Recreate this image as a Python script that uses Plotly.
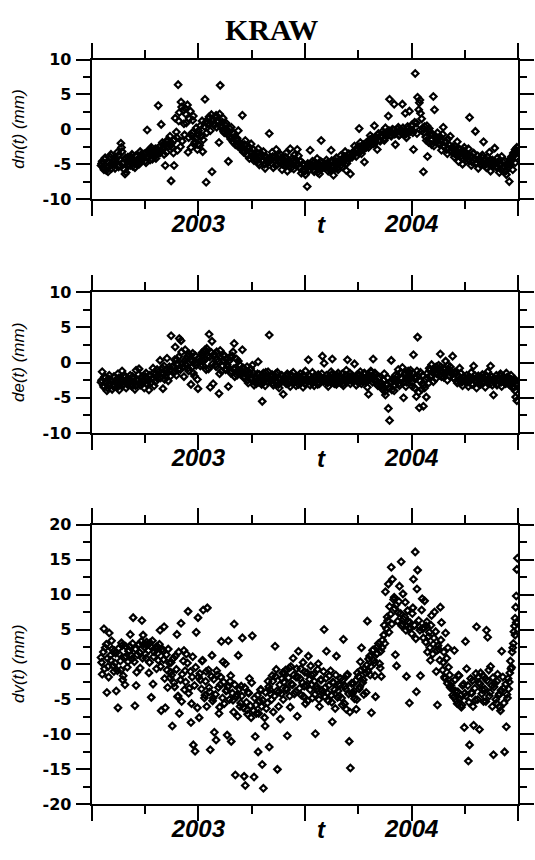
import plotly.graph_objects as go

# ---------------- data ----------------
# observation epochs (days since 2002-07-01), first set
days_a = [
    16,18,21,23,26,28,30,33,35,38,
    40,42,45,47,50,52,54,57,59,62,
    64,66,69,71,74,76,78,81,83,86,
    88,90,93,95,98,100,102,105,107,110,
    112,114,117,119,122,124,126,129,131,134,
    136,138,141,143,146,148,150,153,155,158,
    160,162,165,167,170,172,174,177,179,182,
    184,186,189,191,194,196,198,201,203,206,
    208,210,213,215,218,220,222,225,227,230,
    232,234,237,239,242,244,246,249,251,254,
    256,258,261,263,266,268,270,273,275,278,
    280,282,285,287,290,292,294,297,299,302,
    304,306,309,311,314,316,318,321,323,326,
    328,330,333,335,338,340,342,345,347,350,
    352,354,357,359,362,364,366,369,371,374,
    376,378,381,383,386,388,390,393,395,398,
    400,402,405,407,410,412,414,417,419,422,
    424,426,429,431,434,436,438,441,443,446,
    448,450,453,455,458,460,462,465,467,470,
    472,474,477,479,482,484,486,489,491,494,
    496,498,501,503,506,508,510,513,515,518,
    520,522,525,527,530,532,534,537,539,542,
    544,546,549,551,554,556,558,561,563,566,
    568,570,573,575,578,580,582,585,587,590,
    592,594,597,599,602,604,606,609,611,614,
    616,618,621,623,626,628,630,633,635,638,
    640,642,645,647,650,652,654,657,659,662,
    664,666,669,671,674,676,678,681,683,686,
    688,690,693,695,698,700,702,705,707,710,
    712,715,718,721,723,725,726,727,728,729,
]
# second set of epochs (days since 2002-07-01)
days_b = [
    17,20,22,25,27,29,32,34,37,39,
    41,44,46,49,51,53,56,58,61,63,
    65,68,70,73,75,77,80,82,85,87,
    89,92,94,97,99,101,104,106,109,111,
    113,116,118,121,123,125,128,130,133,135,
    137,140,142,145,147,149,152,154,157,159,
    161,164,166,169,171,173,176,178,181,183,
    185,188,190,193,195,197,200,202,205,207,
    209,212,214,217,219,221,224,226,229,231,
    233,236,238,241,243,245,248,250,253,255,
    257,260,262,265,267,269,272,274,277,279,
    281,284,286,289,291,293,296,298,301,303,
    305,308,310,313,315,317,320,322,325,327,
    329,332,334,337,339,341,344,346,349,351,
    353,356,358,361,363,365,368,370,373,375,
    377,380,382,385,387,389,392,394,397,399,
    401,404,406,409,411,413,416,418,421,423,
    425,428,430,433,435,437,440,442,445,447,
    449,452,454,457,459,461,464,466,469,471,
    473,476,478,481,483,485,488,490,493,495,
    497,500,502,505,507,509,512,514,517,519,
    521,524,526,529,531,533,536,538,541,543,
    545,548,550,553,555,557,560,562,565,567,
    569,572,574,577,579,581,584,586,589,591,
    593,596,598,601,603,605,608,610,613,615,
    617,620,622,625,627,629,632,634,637,639,
    641,644,646,649,651,653,656,658,661,663,
    665,668,670,673,675,677,680,682,685,687,
    689,692,694,697,699,701,704,706,709,711,
    713,714,716,717,719,720,722,724,725,727,
]

dn_a = [
    -5.2,-4.6,-5.8,-4.1,-5.5,-6.1,-4.8,-3.6,-5.0,-4.4,
    -5.6,-4.2,-3.8,-5.1,-2.0,-3.2,-4.7,-6.4,-6.2,-4.0,
    -4.3,-5.2,-3.6,-4.8,-5.5,-3.9,-4.6,-5.0,-3.2,-4.4,
    -4.1,-3.5,-4.8,-0.1,-3.0,-4.4,-2.6,-3.8,-3.1,-4.2,
    -2.8,3.4,-3.4,0.7,-2.2,-3.6,-5.2,-1.8,-2.5,-1.0,
    -7.4,-2.6,-5.2,1.6,-1.2,6.4,2.4,3.9,-1.7,0.8,
    3.0,0.9,-3.3,1.5,-2.6,-0.5,1.9,-1.8,0.2,-2.2,
    -0.7,0.5,1.2,-1.5,4.3,-7.6,0.8,1.8,-0.2,-6.1,
    1.4,0.6,2.0,1.0,-1.9,6.3,0.2,1.6,-0.5,0.9,
    -0.4,-4.6,-1.0,0.3,-1.8,-0.6,-2.2,-1.3,-0.2,-2.7,
    -2.4,2.0,-3.1,-1.6,-3.6,-2.8,-4.2,-2.1,-3.4,-4.5,
    -3.7,-4.5,-2.8,-5.1,-3.9,-4.6,-3.2,-5.6,-4.0,-4.8,
    -0.6,-4.4,-3.3,-5.5,-4.0,-2.9,-5.0,-4.6,-3.6,-5.8,
    -4.3,-5.2,-3.4,-6.0,-4.8,-2.8,-5.5,-4.5,-3.7,-5.1,
    -2.9,-3.8,-5.6,-6.3,-4.9,-5.8,-6.5,-8.2,-5.2,-3.0,
    -5.4,-4.6,-6.1,-5.0,-4.2,-5.7,-6.4,-1.6,-4.8,-5.5,
    -5.2,-4.4,-6.0,-5.6,-3.0,-4.7,-6.6,-5.0,-4.1,-5.8,
    -4.9,-3.8,-5.4,-4.2,-3.2,-5.9,-4.5,-3.6,-6.4,-4.0,
    -3.3,-2.4,-3.9,-2.8,0.1,-1.9,-3.5,-2.2,-4.7,-2.6,
    -1.8,-2.6,-0.9,-1.4,-2.1,0.5,-1.1,-2.9,-0.6,-1.7,
    -0.9,-0.3,-1.6,0.2,-0.5,1.9,4.3,-1.0,0.0,3.6,
    -2.2,-0.4,0.3,-0.8,-0.1,3.6,-0.6,2.3,-1.2,0.1,
    2.6,-0.3,0.5,-2.9,8.0,0.9,4.6,3.8,2.3,-0.2,
    -6.1,0.4,-1.6,-3.9,0.1,-0.8,-2.2,4.7,2.8,-1.3,
    -0.5,-2.0,-1.1,-3.0,0.3,-2.4,-1.7,-3.5,-2.8,-1.0,
    -3.2,-2.5,-4.0,-3.6,-1.8,-4.6,-2.9,-3.8,-5.0,-2.6,
    -3.8,-4.5,-2.8,1.7,-5.2,-4.0,-3.4,-0.3,-4.8,-5.6,
    -4.2,-5.1,-3.7,-1.8,-4.9,-5.5,-4.0,-3.3,-6.0,-4.4,
    -4.6,-2.7,-5.3,-4.1,-6.2,-5.0,-3.9,-5.6,-4.5,-6.5,
    -5.2,-7.5,-4.4,-5.8,-3.6,-4.8,-3.1,-4.0,-2.6,-3.2,
]
dn_b = [
    -4.9,-5.5,-4.3,-5.9,-4.7,-5.3,-4.0,-5.6,-4.5,-5.0,
    -4.8,-3.3,-5.4,-4.4,-2.6,-4.9,-5.8,-4.1,-4.6,-5.2,
    -4.7,-4.0,-5.3,-4.5,-3.8,-5.0,-4.2,-4.9,-3.6,-4.1,
    -3.9,-4.5,-3.3,-4.0,-3.6,-2.9,-4.3,-3.4,-2.8,-3.7,
    -3.2,-2.5,-3.0,-1.9,-2.7,-2.2,-3.3,-1.5,-2.0,-2.4,
    -2.0,-3.4,-1.5,-0.4,-3.0,1.2,-2.5,3.2,2.7,-0.8,
    2.2,3.5,-1.2,2.6,-0.9,1.3,-2.0,-1.4,-2.9,-0.2,
    -2.3,-1.0,-3.2,0.4,1.0,-0.5,1.5,0.7,2.1,1.2,
    0.8,1.7,0.3,1.2,2.2,0.5,1.0,-0.3,0.6,-0.1,
    -0.8,0.1,-1.4,-0.5,-1.9,-1.1,-1.6,-2.4,-1.9,-2.2,
    -2.6,-3.3,-2.2,-3.0,-3.8,-2.5,-3.3,-3.9,-2.9,-3.6,
    -4.2,-3.4,-4.8,-4.0,-3.6,-4.4,-5.0,-3.9,-4.3,-4.6,
    -4.1,-4.9,-3.9,-4.5,-5.2,-4.3,-3.8,-4.8,-4.2,-5.0,
    -4.6,-4.0,-5.0,-4.4,-5.3,-4.9,-4.2,-5.7,-4.6,-5.2,
    -5.0,-5.4,-4.6,-5.9,-5.2,-6.0,-5.5,-4.9,-5.8,-5.3,
    -5.1,-5.8,-4.7,-5.3,-6.2,-5.0,-4.6,-5.6,-5.2,-4.9,
    -5.4,-4.8,-5.0,-5.9,-4.5,-5.3,-5.7,-4.6,-5.5,-4.9,
    -4.4,-5.1,-4.7,-3.9,-4.3,-4.9,-3.5,-4.1,-3.7,-3.3,
    -3.6,-3.0,-2.7,-3.4,-2.5,-3.1,-2.3,-2.9,-2.0,-2.4,
    -2.2,-1.5,-1.9,-1.2,-1.7,-2.0,-1.3,-0.8,-1.5,-1.0,
    -1.1,-0.6,-1.3,-0.4,-0.8,-0.2,-0.9,-0.5,-0.1,-0.7,
    -0.5,0.0,-0.9,-0.3,-0.6,0.2,-0.2,-0.7,0.4,-0.4,
    -0.1,0.6,-0.5,1.0,0.3,-0.6,2.8,4.2,1.5,0.2,
    -0.5,-1.1,0.5,-1.9,-0.3,-1.5,-0.8,-2.4,-1.0,-1.8,
    -1.3,-2.2,-1.6,-0.7,-2.5,-1.9,-2.9,-1.4,-2.3,-3.1,
    -2.7,-3.4,-2.4,-3.0,-3.7,-2.8,-3.3,-4.2,-3.1,-3.5,
    -4.1,-3.6,-4.4,-3.9,-4.7,-3.5,-4.2,-4.9,-3.8,-4.5,
    -4.6,-4.0,-4.8,-5.2,-4.3,-4.7,-5.0,-4.4,-4.9,-5.3,
    -5.1,-4.8,-5.5,-4.6,-5.2,-5.8,-4.7,-5.3,-6.0,-5.0,
    -5.5,-4.9,-4.3,-5.0,-3.9,-4.4,-3.4,-3.7,-2.9,-3.0,
]

de_a = [
    -2.8,-1.3,-3.5,-2.2,-4.0,-3.1,-1.8,-2.6,-3.8,-2.0,
    -3.3,-2.4,-1.6,-3.9,-2.7,-1.2,-3.0,-2.1,-3.6,-2.5,
    -2.9,-1.8,-3.4,-2.3,-3.8,-1.1,-2.6,-0.9,-3.2,-2.0,
    -2.7,-3.6,-1.5,-2.2,-3.9,-1.9,-2.8,-0.8,-3.3,-1.6,
    -1.0,-2.3,0.3,-1.5,-3.7,-0.5,-1.9,0.6,-2.6,-1.1,
    3.8,-0.6,-1.4,2.2,0.4,-1.0,3.4,3.1,-0.2,-2.0,
    1.8,0.5,-0.8,1.2,-3.1,0.2,-1.5,1.0,-0.4,-3.7,
    0.6,-0.5,1.4,0.2,1.8,-1.0,0.9,4.0,-3.5,3.0,
    -3.0,1.2,-0.6,0.5,-4.4,1.7,-1.2,0.3,0.9,-0.9,
    -0.3,-3.4,0.8,-1.2,1.5,2.7,-0.8,-1.8,0.2,-1.4,
    -1.1,1.8,-2.2,-1.6,-0.6,-2.9,-1.4,-2.4,-0.4,-3.2,
    -2.0,-3.0,0.1,-1.7,-2.6,-5.5,-1.5,-3.3,-2.2,-1.3,
    3.9,-2.6,-1.7,-3.2,-2.0,-2.9,-1.4,-3.6,-2.3,-1.9,
    -4.5,-2.2,-3.0,-1.6,-2.7,-3.4,-2.0,-1.4,-2.8,-3.3,
    -2.3,-3.1,-1.6,-2.8,-3.5,-2.0,-1.2,-2.7,0.4,-3.2,
    -2.5,-1.4,-3.3,-2.1,-2.9,-1.7,-3.0,-2.2,0.9,-0.1,
    -2.6,-1.8,-3.4,-2.3,-1.3,0.5,-2.9,-2.0,-3.1,-1.5,
    -2.2,-2.9,-1.6,-3.3,-2.5,-1.1,0.4,-2.0,-3.0,-1.8,
    -2.4,-0.2,-3.2,-1.7,-2.7,-1.3,-3.0,-2.1,-1.5,-2.8,
    -3.5,-4.5,-2.0,-1.4,0.5,-2.6,-1.8,-3.1,-2.3,-3.4,
    -2.9,-3.8,-1.6,-4.6,-3.2,-6.5,-8.2,0.3,-2.4,-4.0,
    -1.8,-2.7,-1.0,-3.3,-2.2,-0.7,-5.0,-1.5,-2.8,-1.2,
    -2.5,-1.1,-3.4,1.1,-2.0,-4.8,3.6,-6.4,-1.4,-3.0,
    -6.2,-3.6,-4.9,-2.2,-0.8,-1.9,-0.3,-2.7,-1.2,-0.6,
    -1.5,-0.4,1.2,-2.0,-0.9,-1.7,0.2,-2.5,-1.1,-0.6,
    -1.4,0.9,-2.3,-1.6,-2.9,-1.9,-0.8,-2.6,-3.3,-2.1,
    -2.7,-1.8,-3.4,-2.2,-1.4,-3.0,-0.5,-2.5,-3.6,-1.9,
    -2.4,-3.1,-1.7,-2.8,-3.5,-2.0,-1.3,-2.6,-0.5,-3.2,
    -4.6,-2.3,-1.8,-3.0,-2.5,-1.6,-3.4,-2.1,-2.9,-1.5,
    -2.2,-3.1,-1.8,-2.7,-3.5,-2.4,-4.9,-3.0,-5.4,-3.3,
]
de_b = [
    -2.5,-3.3,-2.0,-2.9,-3.6,-2.3,-3.0,-2.7,-3.4,-2.1,
    -2.8,-3.5,-2.2,-3.0,-2.4,-3.2,-1.8,-2.6,-3.1,-2.3,
    -2.6,-3.1,-2.0,-2.8,-3.3,-2.4,-1.7,-2.9,-2.2,-3.0,
    -2.4,-2.0,-3.0,-2.6,-1.8,-2.9,-2.2,-1.5,-2.7,-2.1,
    -1.8,-1.2,-2.2,-0.8,-1.6,-2.4,-1.0,-1.4,-0.6,-1.9,
    -1.2,-0.5,0.4,-1.8,-0.2,0.8,-1.0,1.5,-0.6,0.2,
    -0.3,0.9,-1.2,0.4,-0.7,1.3,-1.9,0.0,-2.4,0.6,
    0.2,1.0,-0.4,1.6,0.5,2.0,-0.9,0.8,1.4,-0.2,
    0.9,-0.3,1.5,0.2,-1.6,0.7,-0.5,1.1,-1.0,0.4,
    -0.6,0.3,-1.5,0.9,-0.9,-2.0,0.5,-1.1,-0.3,-1.7,
    -1.4,-0.8,-2.0,-1.2,-2.5,-1.7,-0.9,-2.2,-1.5,-2.7,
    -2.3,-1.6,-2.8,-2.0,-3.1,-1.9,-2.5,-1.4,-2.7,-2.1,
    -2.5,-2.0,-2.9,-2.2,-1.6,-2.7,-3.1,-2.4,-1.8,-2.6,
    -2.2,-2.7,-1.9,-3.0,-2.4,-1.7,-2.9,-2.3,-2.6,-2.0,
    -2.6,-2.0,-2.9,-2.4,-1.8,-3.0,-2.2,-2.5,-1.9,-2.7,
    -2.2,-2.8,-1.9,-2.5,-3.1,-2.0,-2.4,-1.6,-2.7,-2.3,
    -2.4,-2.9,-2.0,-2.6,-1.7,-2.2,-3.0,-2.5,-1.9,-2.7,
    -2.1,-2.6,-3.0,-2.3,-1.8,-2.8,-2.4,-1.5,-2.6,-2.2,
    -2.6,-2.0,-2.4,-2.9,-1.8,-2.3,-2.7,-1.6,-2.2,-2.5,
    -1.9,-2.4,-1.2,-2.8,-2.0,-1.5,-2.6,-3.3,-2.1,-2.9,
    -3.3,-2.5,-4.1,-3.0,-2.2,-3.6,-2.8,-3.9,-2.6,-3.2,
    -2.5,-1.9,-3.0,-1.4,-2.3,-2.8,-1.7,-3.4,-2.0,-1.5,
    -2.0,-2.8,-1.5,-3.6,-2.3,-1.2,-4.2,-2.6,-3.8,-1.8,
    -3.2,-2.4,-1.6,-2.9,-1.1,-2.0,-1.4,-0.8,-2.3,-1.6,
    -1.0,-1.8,-0.6,-1.4,-2.1,-0.9,-1.3,-0.4,-1.9,-1.2,
    -1.7,-2.2,-1.3,-2.6,-1.9,-2.4,-1.5,-2.8,-2.1,-2.5,
    -2.3,-2.8,-2.0,-2.5,-3.1,-2.2,-1.8,-2.7,-2.4,-3.0,
    -2.6,-2.1,-2.9,-2.3,-1.8,-2.7,-2.4,-3.0,-2.0,-2.5,
    -2.2,-2.7,-3.2,-2.4,-1.9,-2.8,-2.3,-2.6,-3.0,-2.1,
    -2.6,-2.1,-2.9,-3.3,-2.4,-2.8,-3.6,-2.5,-4.0,-3.1,
]

dv_a = [
    1.0,-1.4,5.1,2.4,-4.0,-0.3,4.5,0.6,2.2,-1.0,
    0.2,-3.8,-6.2,1.5,-0.8,2.7,-1.6,-2.9,1.1,0.4,
    2.0,4.3,0.8,6.7,-5.9,-3.0,1.4,2.9,-0.5,6.3,
    4.2,2.5,0.9,2.8,-1.2,3.1,-4.7,-2.8,1.8,2.4,
    2.6,0.6,4.9,-6.6,1.9,5.4,-6.2,-0.8,2.2,-1.9,
    0.3,-8.8,-2.6,1.2,4.3,-4.5,-7.0,5.9,-1.4,2.0,
    -0.9,1.5,7.6,-3.4,-8.3,-1.8,-11.5,-12.4,4.6,6.7,
    -7.6,-2.2,0.5,7.8,-4.4,-1.0,8.1,-3.3,-12.2,1.3,
    -4.8,-9.7,-10.8,-1.5,-7.0,-2.9,3.3,0.4,-5.6,-3.8,
    -10.1,3.4,-2.4,-11.0,-5.1,5.8,-15.8,-4.3,1.3,-6.0,
    -3.1,3.8,-16.0,-17.3,-6.5,-4.0,-2.0,-7.6,4.1,-16.1,
    -10.3,-7.0,-12.5,-5.2,-3.6,-14.3,-17.7,-8.8,-6.3,-2.4,
    -11.8,-4.2,-1.6,-6.8,2.6,-0.7,-15.0,-3.9,-7.8,-2.0,
    -5.0,-1.2,-3.4,-10.2,-0.5,-6.1,-2.8,0.9,-4.2,-1.8,
    -7.4,1.9,-2.0,-4.4,0.3,-3.1,-5.6,-1.2,1.2,-3.6,
    -1.5,-4.8,-2.4,-9.9,-3.5,0.1,-6.0,-2.2,-4.1,5.0,
    -3.3,1.9,-5.2,-1.6,-4.4,-8.2,-2.6,-6.3,1.2,-3.8,
    -4.5,-2.0,-5.8,3.6,-3.1,-6.4,-1.4,-11.0,-14.8,-4.2,
    -2.7,-4.9,-6.4,-1.2,-3.5,0.4,2.4,-2.2,-0.6,-4.0,
    6.2,0.8,-1.5,-6.9,2.1,0.2,-4.6,1.6,3.0,-0.5,
    -1.7,3.5,5.6,10.4,6.8,11.5,8.3,13.9,12.2,9.6,
    1.4,-0.2,7.4,11.2,14.7,5.8,6.5,8.9,-1.7,6.1,
    -5.5,5.2,7.3,12.2,16.1,-3.9,13.5,5.4,-1.6,9.4,
    3.8,9.1,5.5,1.8,4.6,0.6,7.0,2.9,7.5,-1.0,
    -5.8,2.2,8.2,6.0,0.3,-1.8,4.5,-2.7,-0.4,-3.3,
    -2.6,-4.4,2.0,-3.8,-5.6,-1.5,-4.9,-6.1,-3.0,-9.0,
    3.3,-0.6,-13.8,-11.5,-4.0,-2.3,-8.7,-5.1,5.4,-1.8,
    -9.3,-1.2,-3.6,-5.3,-2.0,4.9,3.9,-4.5,-0.3,-6.0,
    -12.9,-2.7,-5.5,-1.4,-4.2,-6.6,1.9,-3.4,-12.5,-8.9,
    -4.8,-2.5,-0.6,2.4,4.7,6.6,8.2,9.8,13.6,15.2,
]
dv_b = [
    0.3,1.8,-0.6,2.9,0.9,-1.8,1.3,3.4,-0.2,2.0,
    1.6,-0.9,2.3,0.5,3.1,-2.2,1.0,2.6,-0.4,1.9,
    2.6,1.3,3.0,0.4,2.2,-1.1,2.8,1.7,3.3,0.9,
    2.9,1.5,3.2,2.0,0.3,2.6,3.4,1.1,2.3,-0.6,
    1.6,2.9,-0.3,2.2,0.7,-2.0,1.4,-3.3,0.2,-1.1,
    -1.5,0.9,-3.2,-0.7,-4.6,1.8,-2.2,-5.3,0.5,-3.6,
    -2.5,0.2,-4.1,-1.0,-5.6,1.1,-3.0,-0.4,-6.2,-1.8,
    -1.3,-3.5,0.6,-4.8,-2.4,-6.0,-0.8,-3.9,-1.7,-5.2,
    -2.1,-4.3,-0.9,-3.3,-6.1,-1.8,-4.8,-2.5,0.1,-3.7,
    -3.2,-5.0,-1.6,-4.1,-6.8,-2.9,-4.6,-7.4,-3.5,-5.5,
    -4.5,-6.2,-3.3,-5.4,-7.1,-4.1,-5.9,-2.6,-6.6,-4.8,
    -5.8,-4.4,-7.0,-3.6,-6.0,-5.1,-7.6,-4.0,-5.5,-3.2,
    -3.6,-5.0,-2.4,-4.5,-1.7,-3.8,-6.0,-2.9,-4.2,-1.2,
    -2.5,-0.8,-3.6,-1.9,-4.5,-0.3,-2.9,-1.5,-3.9,-0.6,
    -1.8,-3.4,-0.6,-2.6,-4.6,-1.1,-3.0,-5.2,-2.1,-0.2,
    -2.9,-1.4,-4.3,-3.1,-0.7,-5.0,-2.2,-3.7,-1.0,-4.6,
    -2.0,-4.1,-3.0,-0.9,-5.4,-2.5,-3.6,-1.5,-4.7,-2.8,
    -3.0,-4.8,-2.2,-5.6,-3.5,-1.6,-4.2,-6.8,-2.7,-4.0,
    -3.8,-2.3,-5.0,-1.7,-3.2,-0.8,-2.6,-4.3,-1.2,-0.1,
    -1.0,1.2,-0.3,2.0,0.6,-1.6,1.5,2.6,0.1,1.9,
    2.4,4.2,3.0,5.1,6.3,4.6,7.2,5.8,9.3,8.0,
    8.5,6.2,9.0,7.3,5.5,10.1,6.8,4.9,7.7,5.2,
    6.0,4.4,8.1,5.6,3.7,10.8,6.3,4.9,7.8,5.1,
    5.3,3.2,6.1,4.0,2.4,5.6,1.5,3.8,4.7,2.0,
    2.7,0.6,3.5,-0.8,1.8,-2.0,0.9,2.4,-1.5,-3.0,
    -3.5,-4.7,-2.2,-5.2,-3.9,-1.6,-4.4,-5.8,-2.8,-4.1,
    -4.5,-3.0,-5.4,-2.0,-4.1,-6.0,-3.4,-1.3,-5.0,-2.6,
    -2.8,-4.2,-1.6,-3.5,-5.3,-2.3,-0.8,-4.0,-3.0,-1.9,
    -3.2,-5.0,-2.4,-4.4,-6.1,-3.7,-1.8,-5.5,-2.8,-4.3,
    -2.0,-3.5,-1.2,0.5,-0.4,1.8,3.0,5.5,4.2,6.0,
]

days = days_a + days_b
dn = dn_a + dn_b
de = de_a + de_b
dv = dv_a + dv_b
t_year = [2002.5 + d / 365.25 for d in days]

series = [dn, de, dv]
ytitles = ["dn(t) (mm)", "de(t) (mm)", "dv(t) (mm)"]
yranges = [[-10, 10], [-10, 10], [-20, 20]]
ymajor = [[-10, -5, 0, 5, 10], [-10, -5, 0, 5, 10], [-20, -15, -10, -5, 0, 5, 10, 15, 20]]
yminor = [[-7.5, -2.5, 2.5, 7.5], [-7.5, -2.5, 2.5, 7.5],
          [-17.5, -12.5, -7.5, -2.5, 2.5, 7.5, 12.5, 17.5]]
xmajor = [2002.5, 2003, 2003.5, 2004, 2004.5]
xmajor_text = ["", "2003", "", "2004", ""]
xminor = [2002.75, 2003.25, 2003.75, 2004.25]
t_label_pos = 2003.575

# ---------------- layout geometry (pixels) ----------------
W, H = 535, 860
x0, x1 = 91.7, 518.3
panels_px = [(51.7, 194.3), (289.3, 433.7), (527.3, 813.3)]

fig = go.Figure()
annotations = []
layout = dict(width=W, height=H, margin=dict(l=0, r=0, t=0, b=0),
              paper_bgcolor="white", plot_bgcolor="white", showlegend=False)

for i, (vals, ttl) in enumerate(zip(series, ytitles)):
    n = i + 1
    xa = "x" if n == 1 else f"x{n}"
    ya = "y" if n == 1 else f"y{n}"
    fig.add_trace(go.Scatter(
        x=t_year, y=vals, mode="markers", xaxis=xa, yaxis=ya,
        marker=dict(symbol="diamond-open", size=5, color="black",
                    line=dict(width=2.2, color="black")),
        cliponaxis=True, hoverinfo="skip"))
    top, bot = panels_px[i]
    dom_y = [1 - bot / H, 1 - top / H]
    xkey = "xaxis" if n == 1 else f"xaxis{n}"
    ykey = "yaxis" if n == 1 else f"yaxis{n}"
    layout[xkey] = dict(
        domain=[x0 / W, x1 / W], anchor=ya, range=[2002.5, 2004.5],
        tickmode="array", tickvals=xmajor,
        ticktext=[f"<b><i>{s}</i></b>" if s else "" for s in xmajor_text],
        ticks="outside", ticklen=15, tickwidth=2, tickcolor="black",
        showline=True, linewidth=2, linecolor="black", mirror="ticks",
        showgrid=False, zeroline=False, ticklabelstandoff=-13,
        tickfont=dict(family="Liberation Sans, Arial", size=24, color="black"),
        minor=dict(tickmode="array", tickvals=xminor, ticks="outside",
                   ticklen=8, tickwidth=2, tickcolor="black", showgrid=False),
    )
    layout[ykey] = dict(
        domain=dom_y, anchor=xa, range=yranges[i],
        tickmode="array", tickvals=ymajor[i],
        ticktext=[f"<b>{v}</b>" for v in ymajor[i]],
        ticks="outside", ticklen=14, tickwidth=2, tickcolor="black",
        showline=True, linewidth=2, linecolor="black", mirror="ticks",
        showgrid=False, zeroline=False, ticklabelstandoff=1,
        tickfont=dict(family="DejaVu Sans", size=16, color="black"),
        minor=dict(tickmode="array", tickvals=yminor[i], ticks="outside",
                   ticklen=7, tickwidth=2, tickcolor="black", showgrid=False),
    )
    annotations.append(dict(
        text="<b><i>t</i></b>", x=t_label_pos, xref=xa,
        y=1 - (bot + 26) / H, yref="paper", yanchor="middle", xanchor="center",
        showarrow=False,
        font=dict(family="Liberation Sans, Arial", size=24, color="black")))
    annotations.append(dict(
        text=f"<i>{ttl}</i>", x=18.5 / W, xref="paper",
        y=1 - (top + bot) / 2 / H, yref="paper", textangle=-90,
        xanchor="center", yanchor="middle", showarrow=False,
        font=dict(family="Liberation Sans, Arial", size=17, color="black")))

annotations.append(dict(
    text="<b>KRAW</b>", x=271 / W, xref="paper", y=1 - 20.5 / H, yref="paper",
    xanchor="center", yanchor="middle", showarrow=False,
    font=dict(family="Liberation Serif, Times New Roman", size=30, color="black")))

layout["annotations"] = annotations
fig.update_layout(**layout)
fig.write_html("out.html")
